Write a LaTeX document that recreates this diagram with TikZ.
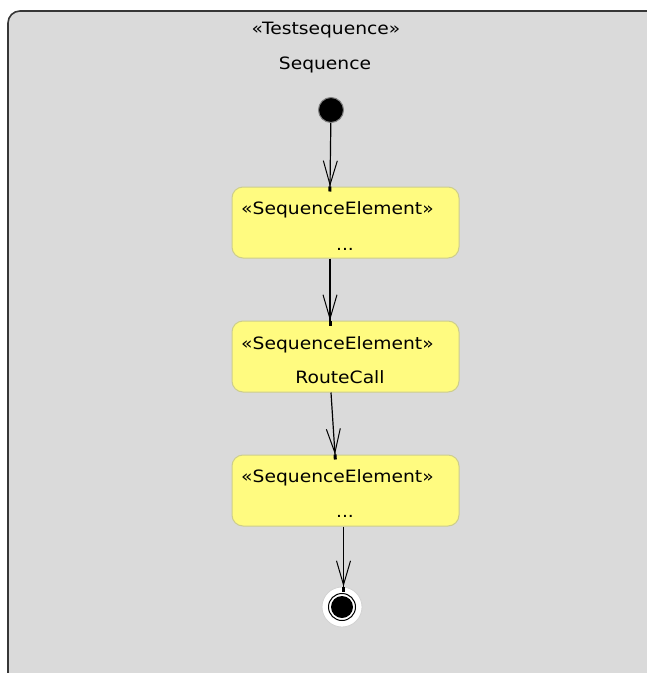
\documentclass[tikz,border=0pt]{standalone}
\usepackage{fontspec}
\setmainfont[FakeStretch=1.1]{DejaVu Sans}
\usetikzlibrary{arrows.meta}
\definecolor{framefill}{RGB}{218,218,218}
\definecolor{frameline}{RGB}{55,55,55}
\definecolor{elemfill}{RGB}{255,251,128}
\definecolor{elemline}{RGB}{205,205,140}
\begin{document}
\begin{tikzpicture}[x=1pt,y=-1pt,
  font=\fontsize{17}{20}\selectfont,
  elem/.style={draw=elemline, line width=1pt, fill=elemfill, rounded corners=11pt,
    minimum width=227pt, minimum height=71pt, inner sep=0pt},
  txt/.style={inner sep=0pt, anchor=base},
  flow/.style={draw=black, line width=1.2pt,
    -{Straight Barb[length=24pt,width=14pt,line width=1pt] Square[length=5pt,width=3pt,sep=-5pt]}},
]
\fill[white] (0,0) rectangle (647,673);
\useasboundingbox (0,0) rectangle (647,673);
\clip (0,0) rectangle (647,673);

% container frame
\draw[fill=framefill, draw=frameline, line width=1.6pt, rounded corners=12pt]
  (8,11) rectangle (665,700);
\node[txt] (stereo) at (326,34) {«Testsequence»};
\node[txt] (title) at (325,69) {Sequence};

% initial state
\node[circle, fill=black, draw=gray, line width=1pt, minimum size=25pt, inner sep=0pt] (init) at (331,110) {};

% sequence elements
\node[elem] (b1) at (345.5,222.5) {};
\node[txt, anchor=base west] (b1s) at (241,214) {«SequenceElement»};
\node[txt] (b1n) at (345,250) {...};

\node[elem] (b2) at (345.5,356.5) {};
\node[txt, anchor=base west] (b2s) at (241,349) {«SequenceElement»};
\node[txt] (b2n) at (340,383) {RouteCall};

\node[elem] (b3) at (345.5,490.5) {};
\node[txt, anchor=base west] (b3s) at (241,482) {«SequenceElement»};
\node[txt] (b3n) at (345,517) {...};

% final state
\node[circle, fill=white, draw=gray!35, line width=0.8pt, minimum size=40pt, inner sep=0pt] (fin) at (342,607) {};
\node[circle, draw=black, line width=1pt, minimum size=27pt, inner sep=0pt] (finring) at (fin) {};
\node[circle, fill=black, minimum size=22pt, inner sep=0pt] (fincore) at (fin) {};

% transitions
\draw[flow] (init) -- ([xshift=-15.5pt]b1.north);
\draw[flow] ([xshift=-15.5pt]b1.south) -- ([xshift=-15.5pt]b2.north);
\draw[flow] ([xshift=-14.5pt]b2.south) -- ([xshift=-10.5pt]b3.north);
\draw[flow] ([xshift=-2pt]b3.south) -- ([xshift=1.5pt]fin.north);
\end{tikzpicture}
\end{document}
